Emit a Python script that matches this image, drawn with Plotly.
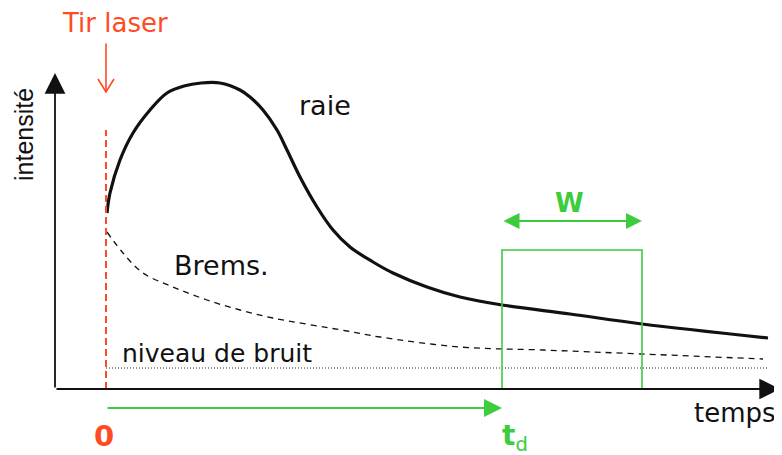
import plotly.graph_objects as go

# Schematic of a LIBS time-resolved signal (units: ~100 px per unit)
RED = '#ff4a22'
GREEN = '#3dcc3d'
INK = '#111111'

# line emission ("raie")
raie_t = [0.01, 0.04, 0.14, 0.27, 0.44, 0.61, 0.78, 0.95, 1.14, 1.34, 1.44, 1.57, 1.71, 1.81,
          1.94, 2.11, 2.27, 2.44, 2.67, 2.87, 3.21, 3.54, 3.96, 4.64, 5.36, 6.62]
raie_i = [1.76, 1.96, 2.29, 2.56, 2.79, 2.96, 3.03, 3.06, 3.06, 2.99, 2.92, 2.79, 2.59, 2.39,
          2.12, 1.82, 1.59, 1.42, 1.27, 1.16, 1.02, 0.92, 0.84, 0.75, 0.65, 0.51]

# continuum (Bremsstrahlung)
brems_t = [0.01, 0.17, 0.37, 0.67, 1.01, 1.34, 1.67, 2.41, 2.74, 3.54, 4.37, 5.36, 6.57]
brems_i = [1.57, 1.36, 1.16, 1.02, 0.89, 0.79, 0.71, 0.58, 0.52, 0.42, 0.39, 0.35, 0.30]

# noise level
bruit_t = [0.0, 6.62]
bruit_i = [0.21, 0.21]

# timing
t_laser = 0.0
t_d = 3.96
w_end = 5.36
gate_top = 1.39

# axis extents
x_axis_start = -0.51
x_axis_tip = 6.74
y_axis_tip = 3.16

fig = go.Figure()

fig.add_trace(go.Scatter(x=bruit_t, y=bruit_i, mode='lines',
                         line=dict(color='#333333', width=1.2, dash='1px,2px'),
                         hoverinfo='skip'))
fig.add_trace(go.Scatter(x=brems_t, y=brems_i, mode='lines', line_shape='spline',
                         line=dict(color=INK, width=1.3, dash='6px,5px'),
                         hoverinfo='skip'))
fig.add_trace(go.Scatter(x=raie_t, y=raie_i, mode='lines', line_shape='spline',
                         line=dict(color=INK, width=3.2),
                         hoverinfo='skip'))

# laser shot: dashed vertical line
fig.add_shape(type='line', x0=t_laser, x1=t_laser, y0=0, y1=2.59,
              line=dict(color=RED, width=2, dash='7px,4px'))

# gate window
fig.add_shape(type='rect', x0=t_d, x1=w_end, y0=0, y1=gate_top,
              line=dict(color=GREEN, width=1.6))

# axes arrows
fig.add_annotation(x=x_axis_tip, y=0, ax=x_axis_start, ay=0, xref='x', yref='y',
                   axref='x', ayref='y', text='', showarrow=True,
                   arrowhead=2, arrowsize=2.3, arrowwidth=1.8, arrowcolor=INK)
fig.add_annotation(x=x_axis_start, y=y_axis_tip, ax=x_axis_start, ay=0, xref='x', yref='y',
                   axref='x', ayref='y', text='', showarrow=True,
                   arrowhead=2, arrowsize=2.3, arrowwidth=1.8, arrowcolor=INK)

# laser arrow
fig.add_annotation(x=t_laser, y=2.97, ax=t_laser, ay=3.47, xref='x', yref='y',
                   axref='x', ayref='y', text='', showarrow=True,
                   arrowhead=0, arrowwidth=1.6, arrowcolor=RED)
fig.add_trace(go.Scatter(x=[t_laser - 0.08, t_laser, t_laser + 0.08],
                         y=[3.10, 2.97, 3.10], mode='lines',
                         line=dict(color=RED, width=1.6), hoverinfo='skip'))

# delay arrow and window width arrow
fig.add_annotation(x=t_d, y=-0.19, ax=t_laser, ay=-0.19, xref='x', yref='y',
                   axref='x', ayref='y', text='', showarrow=True,
                   arrowhead=2, arrowsize=1.8, arrowwidth=2, arrowcolor=GREEN)
fig.add_annotation(x=w_end, y=1.68, ax=t_d, ay=1.68, xref='x', yref='y',
                   axref='x', ayref='y', text='', showarrow=True, arrowside='end+start',
                   arrowhead=2, arrowsize=1.6, arrowwidth=2, arrowcolor=GREEN)

# labels
font = 'DejaVu Sans, Arial, sans-serif'
labels = [
    dict(x=0.09, y=3.66, text='Tir laser', color=RED, size=26, anchor='center'),
    dict(x=2.19, y=2.84, text='raie', color=INK, size=27, anchor='center'),
    dict(x=1.15, y=1.24, text='Brems.', color=INK, size=27, anchor='center'),
    dict(x=1.11, y=0.36, text='niveau de bruit', color=INK, size=25, anchor='center'),
    dict(x=5.86, y=-0.24, text='temps', color=INK, size=26, anchor='left'),
    dict(x=4.63, y=1.86, text='<b>W</b>', color=GREEN, size=26, anchor='center'),
    dict(x=-0.02, y=-0.47, text='<b>0</b>', color=RED, size=29, anchor='center'),
    dict(x=3.94, y=-0.48, text='<b>t</b><sub>d</sub>', color=GREEN, size=28, anchor='left'),
]
for lab in labels:
    fig.add_annotation(x=lab['x'], y=lab['y'], xref='x', yref='y', text=lab['text'],
                       showarrow=False, xanchor=lab['anchor'], yanchor='middle',
                       font=dict(family=font, size=lab['size'], color=lab['color']))

fig.add_annotation(x=-0.82, y=2.54, xref='x', yref='y', text='intensité',
                   showarrow=False, textangle=-90,
                   font=dict(family='Liberation Sans, Arial, sans-serif', size=25, color=INK))

# the page body adds an 8 px margin, so ranges are shifted to keep the drawing in place
fig.update_layout(
    width=782, height=455,
    margin=dict(l=0, r=0, t=0, b=0),
    paper_bgcolor='white', plot_bgcolor='white',
    showlegend=False,
    xaxis=dict(range=[-0.98, 6.84], visible=False, fixedrange=True),
    yaxis=dict(range=[-0.74, 3.81], visible=False, fixedrange=True),
)

fig.write_html("out.html")
